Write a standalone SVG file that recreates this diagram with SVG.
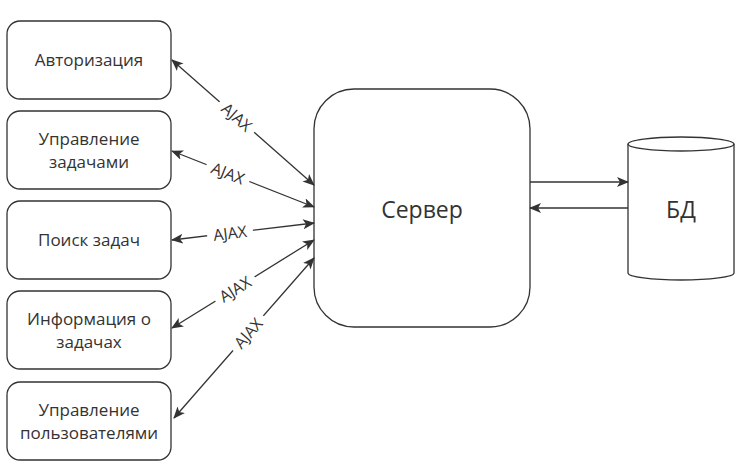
<svg xmlns="http://www.w3.org/2000/svg" width="752" height="471" viewBox="0 0 752 471">
<defs>
<style>
.box{fill:#fff;stroke:#333;stroke-width:1.3}
.lbl{font-family:"Open Sans","Noto Sans","DejaVu Sans",sans-serif;font-size:17px;fill:#333;text-anchor:middle}
.big{font-size:23px}
.edge{stroke:#333;stroke-width:1.3;fill:none}
.aj{font-family:"Open Sans","Noto Sans","DejaVu Sans",sans-serif;font-size:16px;fill:#333;text-anchor:middle}
.bg{fill:#fff}
</style>
<marker id="arr" viewBox="0 0 12 10" refX="11" refY="5" markerWidth="12" markerHeight="10" markerUnits="userSpaceOnUse" orient="auto-start-reverse">
<path d="M0,0 L12,5 L0,10 L3,5 z" fill="#333"/>
</marker>
</defs>
<rect width="752" height="471" fill="#fff"/>
<g id="n-auth"><rect class="box" x="7" y="21" width="164" height="78" rx="13"/><text class="lbl" x="89" y="66">Авторизация</text></g>
<g id="n-tasks"><rect class="box" x="7" y="111" width="164" height="78" rx="13"/><text class="lbl" x="89" y="145">Управление</text><text class="lbl" x="89" y="168">задачами</text></g>
<g id="n-search"><rect class="box" x="7" y="201" width="164" height="78" rx="13"/><text class="lbl" x="89" y="246">Поиск задач</text></g>
<g id="n-info"><rect class="box" x="7" y="291" width="164" height="78" rx="13"/><text class="lbl" x="89" y="325">Информация о</text><text class="lbl" x="89" y="348">задачах</text></g>
<g id="n-users"><rect class="box" x="7" y="382" width="164" height="78" rx="13"/><text class="lbl" x="89" y="416">Управление</text><text class="lbl" x="89" y="439">пользователями</text></g>
<g id="n-server"><rect class="box" x="314" y="89" width="216" height="238" rx="40"/><text class="lbl big" x="422" y="218">Сервер</text></g>
<g id="n-db"><path class="box" d="M628,144 a53,7 0 0 1 106,0 v129 a53,7 0 0 1 -106,0 z"/><path class="edge" d="M628,144 a53,7 0 0 0 106,0"/><text class="lbl big" x="681" y="218">БД</text></g>
<g id="connectors">
<line class="edge" x1="172" y1="60" x2="314" y2="185" marker-start="url(#arr)" marker-end="url(#arr)"/>
<line class="edge" x1="172" y1="151" x2="314" y2="207" marker-start="url(#arr)" marker-end="url(#arr)"/>
<line class="edge" x1="172" y1="240" x2="314" y2="223" marker-start="url(#arr)" marker-end="url(#arr)"/>
<line class="edge" x1="172" y1="328" x2="314" y2="240" marker-start="url(#arr)" marker-end="url(#arr)"/>
<line class="edge" x1="174" y1="418" x2="314" y2="258" marker-start="url(#arr)" marker-end="url(#arr)"/>
<line class="edge" x1="530" y1="182" x2="628" y2="182" marker-end="url(#arr)"/>
<line class="edge" x1="628" y1="208" x2="530" y2="208" marker-end="url(#arr)"/>
<g transform="translate(237,117) rotate(41.4)"><rect class="bg" x="-23" y="-9" width="46" height="18"/><text class="aj" y="6">AJAX</text></g>
<g transform="translate(228,173) rotate(21.5)"><rect class="bg" x="-23" y="-9" width="46" height="18"/><text class="aj" y="6">AJAX</text></g>
<g transform="translate(230,233) rotate(-6.8)"><rect class="bg" x="-23" y="-9" width="46" height="18"/><text class="aj" y="6">AJAX</text></g>
<g transform="translate(235,289) rotate(-31.8)"><rect class="bg" x="-23" y="-9" width="46" height="18"/><text class="aj" y="6">AJAX</text></g>
<g transform="translate(248,333) rotate(-48.8)"><rect class="bg" x="-23" y="-9" width="46" height="18"/><text class="aj" y="6">AJAX</text></g>
</g>
</svg>
